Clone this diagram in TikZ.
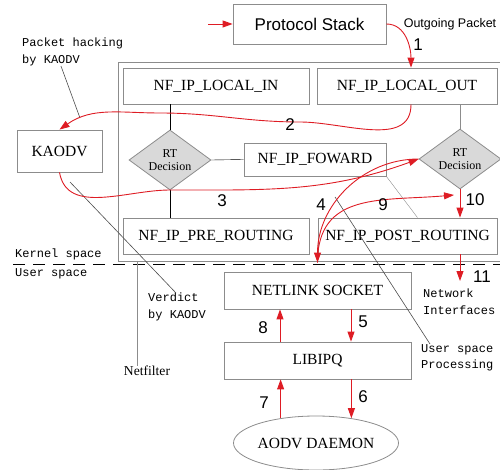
\documentclass[tikz,border=0pt]{standalone}
\usepackage{fontspec}
\setmainfont{Liberation Serif}
\setsansfont{Liberation Sans}
\setmonofont{Liberation Mono}
\usepackage{tikz}
\usetikzlibrary{shapes.geometric, arrows.meta}

\definecolor{hookred}{RGB}{222,28,36}
\definecolor{hookgray}{RGB}{140,140,140}

\begin{document}
\begin{tikzpicture}[x = 1pt, y = -1pt,
	hook/.style = {draw = hookgray, line width = 0.8pt, inner sep = 0pt, font = \fontsize{15.5}{17}\selectfont},
	rtdec/.style = {diamond, draw = hookgray, fill = gray!30, line width = 0.8pt, inner sep = 0pt, shape aspect = 1.37, minimum width = 82pt, minimum height = 60pt, align = center, font = \fontsize{12}{13}\selectfont},
	flow/.style = {draw = hookred, line width = 0.9pt, -{Triangle[length = 10pt, width = 7pt]}},
	flownum/.style = {inner sep = 0pt, font = \sffamily\fontsize{17}{17}\selectfont},
	note/.style = {align = left, inner sep = 0pt, anchor = north west, font = \ttfamily\fontsize{12}{16.5}\selectfont},
	pointer/.style = {draw = black!70, line width = 0.6pt}]
	\useasboundingbox (0,0) rectangle (500,470);

	\begin{scope}
		\draw [hookgray, line width = 0.8pt] (118,261) rectangle (510,62);
		\draw [dash pattern = on 12pt off 8pt, line width = 0.8pt] (13,264) -- (500,264);
		\node [note, font = \ttfamily\fontsize{12}{19}\selectfont] (spaces) at (15,249) {Kernel space\\User space};
	\end{scope}

	\node [hook, minimum width = 153pt, minimum height = 40pt, font = \sffamily\fontsize{17}{17}\selectfont] (stack) at (309.5,24) {Protocol Stack};
	\node [hook, minimum width = 186pt, minimum height = 36pt] (localin) at (216,86) {NF\_IP\_LOCAL\_IN};
	\node [hook, minimum width = 180pt, minimum height = 36pt] (localout) at (407,86) {NF\_IP\_LOCAL\_OUT};
	\node [hook, minimum width = 85pt, minimum height = 42pt] (kaodv) at (59.5,151) {KAODV};
	\node [rtdec] (rtin) at (170,160) {RT\\Decision};
	\node [rtdec] (rtout) at (460,159) {RT\\Decision};
	\node [hook, minimum width = 142pt, minimum height = 33pt] (foward) at (315,159.5) {NF\_IP\_FOWARD};
	\node [hook, minimum width = 186pt, minimum height = 36pt] (prerouting) at (216,236) {NF\_IP\_PRE\_ROUTING};
	\node [hook, minimum width = 179pt, minimum height = 36pt] (postrouting) at (407.5,236) {NF\_IP\_POST\_ROUTING};
	\node [hook, minimum width = 187pt, minimum height = 37pt] (netlink) at (317.5,290.5) {NETLINK SOCKET};
	\node [hook, minimum width = 187pt, minimum height = 37pt] (libipq) at (317.5,360.5) {LIBIPQ};
	\node [hook, ellipse, minimum width = 162pt, minimum height = 54pt] (daemon) at (316,443) {AODV DAEMON};

	\node [font = \fontsize{13.6}{15}\selectfont, inner sep = 0pt] (netfilter) at (147,371) {Netfilter};
	\node [font = \sffamily\fontsize{12.5}{14}\selectfont, inner sep = 0pt] (outgoing) at (450,24) {Outgoing Packet};
	\node [note] (hack) at (22,38) {Packet hacking\\by KAODV};
	\node [note] (verdict) at (148,293) {Verdict\\by KAODV};
	\node [note] (netif) at (423,289) {Network\\Interfaces};
	\node [note] (userproc) at (421,344) {User space\\Processing};

	\coordinate (incoming) at (208,24);
	\coordinate (nfcorner) at (137,261);
	\coordinate (nltop) at ([yshift = 9pt]netlink.north);
	\coordinate (rtback) at (454,195);
	\coordinate (wire) at (460,281);
	\coordinate (hackpt) at (80,118);
	\coordinate (verdictpt) at (70,182);
	\coordinate (procpt) at (335,197);

	\begin{scope}
		\draw (rtin.north |- localin.south) -- (rtin.north);
		\draw (rtin.east) -- (foward.west);
		\draw (rtin.south) -- (rtin.south |- prerouting.north);
		\draw [hookgray] (rtout.north |- localout.south) -- (rtout.north);
		\draw [hookgray] (foward.south east) -- ([xshift = 10pt]postrouting.north);
		\draw [hookgray] (nfcorner) -- (nfcorner |- netfilter.north);
	\end{scope}

	\begin{scope}
		\draw [pointer] ([xshift = 39pt]hack.south west) -- (hackpt);
		\draw [pointer] (verdictpt) -- ([xshift = 28pt]verdict.north west);
		\draw [pointer] (procpt) -- ([xshift = 9pt]userproc.north west);
	\end{scope}

	\begin{scope}
		\draw [flow] (incoming) -- (stack.west);
		\draw [flow] (stack.east) to [out = 0, in = 90] ([xshift = 4pt]localout.north);
		\draw [flow] ([xshift = 4pt]localout.south) to [out = -90, in = 0] (300,122) to [out = 180, in = 0] (160,113) to [out = 180, in = 35] (kaodv.north);
		\draw [flow] (kaodv.south) to [out = -80, in = 180] (170,190) to [out = 0, in = 200] (rtout.west);
		\draw [flow] (rtout.west) to [out = 180, in = 90] (nltop);
		\draw [flow] (nltop) to [out = 90, in = 185, looseness = 1.2] (rtback);
		\draw [flow] (rtout.south) -- (rtout.south |- postrouting.north);
		\draw [flow] (rtout.south |- postrouting.south) -- (wire);
		\draw [flow] ([xshift = 33.5pt]netlink.south) -- ([xshift = 33.5pt]libipq.north);
		\draw [flow] (daemon.35 |- libipq.south) -- (daemon.35);
		\draw [flow] (daemon.145) -- (daemon.145 |- libipq.south);
		\draw [flow] ([xshift = -37.5pt]libipq.north) -- ([xshift = -37.5pt]netlink.south);
	\end{scope}

	\begin{scope}
		\node [flownum] (n1) at (418,45) {1};
		\node [flownum] (n2) at (290,125) {2};
		\node [flownum] (n3) at (222,201) {3};
		\node [flownum] (n4) at (321,205) {4};
		\node [flownum] (n5) at (363,322) {5};
		\node [flownum] (n6) at (363,397) {6};
		\node [flownum] (n7) at (264,403) {7};
		\node [flownum] (n8) at (263,328) {8};
		\node [flownum] (n9) at (383,205) {9};
		\node [flownum] (n10) at (475,200) {10};
		\node [flownum] (n11) at (482,277) {11};
	\end{scope}
\end{tikzpicture}
\end{document}
